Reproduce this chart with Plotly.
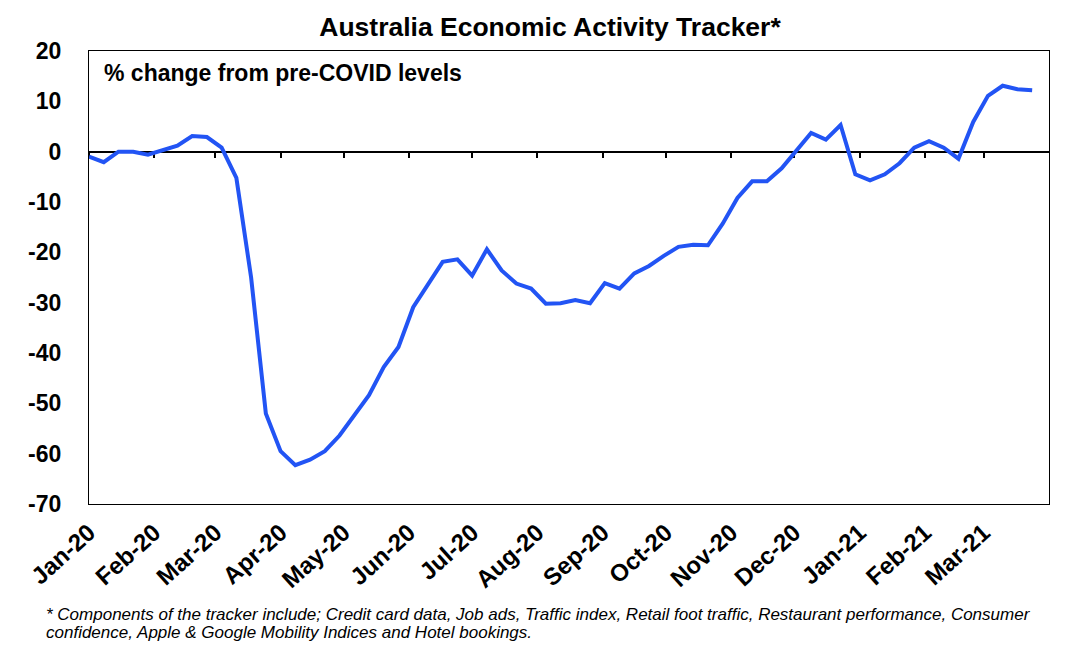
import plotly.graph_objects as go
import pandas as pd

# weekly readings, % change from pre-COVID levels
week_start = "2020-01-01"
activity = [
    -1.0, -2.1, 0.0, 0.0, -0.6, 0.2, 1.2, 3.1, 2.9, 0.8,
    -5.2, -25.0, -52.0, -59.5, -62.3, -61.2, -59.5, -56.4, -52.4, -48.4,
    -42.8, -38.8, -30.9, -26.5, -21.9, -21.4, -24.6, -19.4, -23.6, -26.2,
    -27.2, -30.2, -30.1, -29.5, -30.1, -26.1, -27.2, -24.2, -22.7, -20.7,
    -18.9, -18.5, -18.6, -14.3, -9.2, -5.9, -5.9, -3.3, 0.2, 3.7,
    2.4, 5.3, -4.5, -5.7, -4.5, -2.3, 0.8, 2.1, 0.8, -1.4,
    5.9, 11.1, 13.1, 12.4, 12.2,
]
month_labels = ["Jan-20", "Feb-20", "Mar-20", "Apr-20", "May-20", "Jun-20", "Jul-20",
                "Aug-20", "Sep-20", "Oct-20", "Nov-20", "Dec-20", "Jan-21", "Feb-21", "Mar-21"]
y_ticks = [20, 10, 0, -10, -20, -30, -40, -50, -60, -70]

footnote_1 = ("* Components of the tracker include; Credit card data, Job ads, Traffic index, "
              "Retail foot traffic, Restaurant performance, Consumer")
footnote_2 = "confidence, Apple &amp; Google Mobility Indices and Hotel bookings."

dates = pd.date_range(week_start, periods=len(activity), freq="7D")
month_starts = pd.date_range("2020-01-01", periods=len(month_labels), freq="MS")
x_range = ["2020-01-01", "2021-04-01"]

FONT = "Liberation Sans, Arial, sans-serif"
BLUE = "#2254F4"
PAGE = 8  # the page body adds an 8px margin around the figure
W, H = 1079, 656
L, T, PW, PH = 89 - PAGE, 51 - PAGE, 960, 453


def px_x(x):
    return (x - 89) / PW


def px_y(y):
    return (504 - y) / PH


fig = go.Figure()
fig.add_trace(go.Scatter(x=dates, y=activity, mode="lines",
                         line=dict(color=BLUE, width=4), showlegend=False))
# hidden copy so the zero-line axis gets drawn
fig.add_trace(go.Scatter(x=dates, y=activity, mode="lines", xaxis="x2",
                         opacity=0, hoverinfo="skip", showlegend=False))

fig.update_layout(
    width=W, height=H,
    margin=dict(l=L, r=W - L - PW, t=T, b=H - T - PH, autoexpand=False),
    paper_bgcolor="white", plot_bgcolor="white",
    font=dict(family=FONT, color="black"),
    title=dict(text="<b>Australia Economic Activity Tracker*</b>",
               x=(550 - PAGE) / W, xanchor="center",
               yref="container", y=1 - (27 - PAGE) / H, yanchor="middle",
               font=dict(size=26.5, family=FONT, color="black")),
    xaxis=dict(type="date", range=x_range, tickvals=month_starts, ticktext=month_labels,
               tickangle=-42, ticks="", showgrid=False, zeroline=False,
               showline=True, linecolor="black", linewidth=1.2, mirror=True,
               ticklabelstandoff=4, automargin=False,
               tickfont=dict(size=24, family=FONT, color="black", weight="bold")),
    xaxis2=dict(type="date", range=x_range, overlaying="x", anchor="free",
                position=70 / 90, tickvals=month_starts, showticklabels=False,
                ticks="outside", ticklen=6, tickwidth=1.5, tickcolor="black",
                showline=True, linecolor="black", linewidth=1.5,
                showgrid=False, zeroline=False, layer="below traces"),
    yaxis=dict(range=[-70, 20], tickvals=y_ticks, ticktext=[str(v) for v in y_ticks],
               ticks="", showgrid=False, automargin=False,
               zeroline=False, showline=True, linecolor="black", linewidth=1.2,
               mirror=True, ticklabelstandoff=22,
               tickfont=dict(size=23, family=FONT, color="black", weight="bold")),
)

fig.add_annotation(text="<b>% change from pre-COVID levels</b>",
                   xref="paper", yref="paper", x=px_x(102), y=px_y(73),
                   xanchor="left", yanchor="middle", showarrow=False,
                   font=dict(size=23, family=FONT, color="black"))

for line, y_px in [(footnote_1, 614), (footnote_2, 632)]:
    fig.add_annotation(text="<i>" + line + "</i>",
                       xref="paper", yref="paper", x=px_x(44), y=px_y(y_px),
                       xanchor="left", yanchor="middle", align="left", showarrow=False,
                       font=dict(size=17, family=FONT, color="black"))

fig.write_html("out.html")
